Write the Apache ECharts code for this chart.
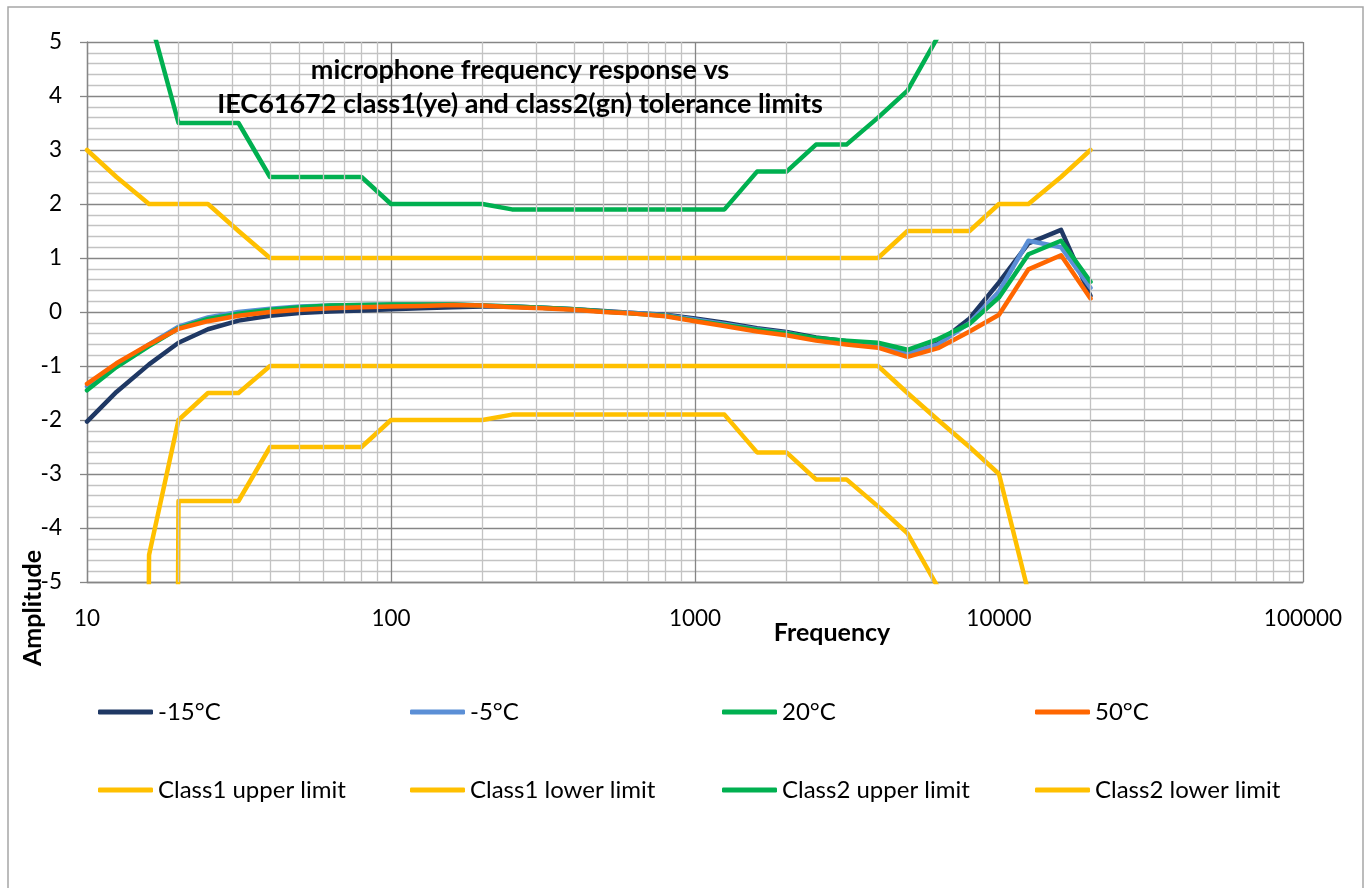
<!DOCTYPE html>
<html>
<head>
<meta charset="utf-8">
<script src="https://cdn.jsdelivr.net/npm/echarts@6/dist/echarts.min.js"></script>
<style>
  html, body { margin: 0; padding: 0; background: #fff; }
  #chart { width: 1369px; height: 888px; }
</style>
</head>
<body>
<div id="chart"></div>
<script>
// third-octave frequencies, Hz
var freq = [10, 12.5, 16, 20, 25, 31.5, 40, 50, 63, 80, 100, 125, 160, 200, 250, 315, 400, 500, 630, 800,
            1000, 1250, 1600, 2000, 2500, 3150, 4000, 5000, 6300, 8000, 10000, 12500, 16000, 20000];

// measured response (dB) per temperature
var resp_m15 = [-2.03, -1.48, -0.97, -0.57, -0.32, -0.16, -0.07, -0.02, 0.01, 0.03, 0.05, 0.07, 0.09, 0.10, 0.10, 0.08, 0.05, 0.02, -0.02, -0.05,
                -0.12, -0.20, -0.30, -0.37, -0.47, -0.54, -0.60, -0.76, -0.58, -0.12, 0.55, 1.27, 1.52, 0.30];
var resp_m5  = [-1.38, -0.98, -0.60, -0.27, -0.10, 0.00, 0.06, 0.10, 0.12, 0.13, 0.14, 0.14, 0.14, 0.12, 0.10, 0.08, 0.05, 0.01, -0.02, -0.06,
                -0.14, -0.22, -0.32, -0.39, -0.50, -0.57, -0.64, -0.76, -0.60, -0.20, 0.38, 1.32, 1.20, 0.45];
var resp_20  = [-1.45, -1.02, -0.63, -0.30, -0.13, -0.03, 0.04, 0.09, 0.12, 0.13, 0.14, 0.14, 0.14, 0.12, 0.10, 0.08, 0.05, 0.01, -0.03, -0.07,
                -0.16, -0.24, -0.33, -0.40, -0.48, -0.53, -0.57, -0.70, -0.50, -0.22, 0.27, 1.07, 1.32, 0.56];
var resp_50  = [-1.33, -0.95, -0.60, -0.31, -0.17, -0.07, 0.00, 0.04, 0.07, 0.09, 0.10, 0.11, 0.13, 0.12, 0.09, 0.07, 0.04, 0.00, -0.03, -0.08,
                -0.17, -0.26, -0.36, -0.43, -0.53, -0.60, -0.66, -0.83, -0.67, -0.36, -0.05, 0.79, 1.05, 0.25];

// IEC61672 tolerance limits (-100 = no lower limit, off the chart)
var class1_up = [3, 2.5, 2, 2, 2, 1.5, 1, 1, 1, 1, 1, 1, 1, 1, 1, 1, 1, 1, 1, 1,
                 1, 1, 1, 1, 1, 1, 1, 1.5, 1.5, 1.5, 2, 2, 2.5, 3];
var class1_lo = [-100, -100, -4.5, -2, -1.5, -1.5, -1, -1, -1, -1, -1, -1, -1, -1, -1, -1, -1, -1, -1, -1,
                 -1, -1, -1, -1, -1, -1, -1, -1.5, -2, -2.5, -3, -5.2, -100, -100];
var class2_up = [5.5, 5.5, 5.5, 3.5, 3.5, 3.5, 2.5, 2.5, 2.5, 2.5, 2, 2, 2, 2, 1.9, 1.9, 1.9, 1.9, 1.9, 1.9,
                 1.9, 1.9, 2.6, 2.6, 3.1, 3.1, 3.6, 4.1, 5.1, 5.6, 5.6, 6, 6, 6];
var class2_lo = [-100, -100, -100, -3.5, -3.5, -3.5, -2.5, -2.5, -2.5, -2.5, -2, -2, -2, -2, -1.9, -1.9, -1.9, -1.9, -1.9, -1.9,
                 -1.9, -1.9, -2.6, -2.6, -3.1, -3.1, -3.6, -4.1, -5.1, -5.6, -5.6, -6, -100, -100];

// minor vertical gridlines of the log axis
var minorFreq = [];
[10, 100, 1000, 10000].forEach(function (d) {
  for (var k = 2; k <= 9; k++) minorFreq.push(d * k);
});

var FONT = 'Lato';
var chart = echarts.init(document.getElementById('chart'));

function pairs(arr) {
  return freq.map(function (f, i) { return [f, arr[i]]; });
}
function lineSeries(name, arr, color) {
  return {
    name: name,
    type: 'line',
    data: pairs(arr),
    showSymbol: false,
    symbol: 'none',
    clip: true,
    lineStyle: { color: color, width: 4.5, cap: 'round', join: 'round' },
    itemStyle: { color: color },
    emphasis: { disabled: true },
    animation: false
  };
}

var names = ['-15°C', '-5°C', '20°C', '50°C', 'Class1 upper limit', 'Class1 lower limit', 'Class2 upper limit', 'Class2 lower limit'];
var legendPos = [[98, 700], [410, 700], [722, 700], [1035, 700], [98, 778], [410, 778], [722, 778], [1035, 778]];

var option = {
  backgroundColor: '#fff',
  textStyle: { fontFamily: FONT },
  grid: { left: 87, top: 42, right: 66, bottom: 306, containLabel: false },
  legend: names.map(function (n, i) {
    return {
      data: [n],
      left: legendPos[i][0],
      top: legendPos[i][1],
      padding: 0,
      icon: 'roundRect',
      itemWidth: 55,
      itemHeight: 5,
      selectedMode: false,
      textStyle: { fontFamily: FONT, fontSize: 24, color: '#000' }
    };
  }),
  xAxis: {
    type: 'log',
    logBase: 10,
    min: 10,
    max: 100000,
    axisLine: { onZero: false, lineStyle: { color: '#868686', width: 1.3 } },
    axisTick: { show: false },
    axisLabel: {
      fontFamily: FONT, fontSize: 22.5, color: '#000', margin: 25,
      formatter: function (v) { return String(Math.round(v)); }
    },
    splitLine: { show: true, lineStyle: { color: '#868686', width: 1.3 } }
  },
  yAxis: {
    type: 'value',
    min: -5,
    max: 5,
    interval: 1,
    axisLine: { show: true, lineStyle: { color: '#868686', width: 1.3 } },
    axisTick: { show: true, length: 7, lineStyle: { color: '#868686', width: 1.3 } },
    axisLabel: { fontFamily: FONT, fontSize: 22.5, color: '#000', margin: 25 },
    splitLine: { show: true, lineStyle: { color: '#868686', width: 1.3 } },
    minorTick: { show: false, splitNumber: 5 },
    minorSplitLine: { show: true, lineStyle: { color: '#c3c3c3', width: 1.3 } }
  },
  graphic: [
    { type: 'rect', shape: { x: 8, y: 7, width: 1355, height: 900 }, style: { fill: null, stroke: '#a6a6a6', lineWidth: 1.5 }, silent: true },
    { type: 'text', x: 520, y: 70, style: { text: 'microphone frequency response vs', font: 'bold 27px ' + FONT, fill: '#000', textAlign: 'center', textVerticalAlign: 'middle' }, z: 100 },
    { type: 'text', x: 520, y: 104, style: { text: 'IEC61672 class1(ye) and class2(gn) tolerance limits', font: 'bold 27px ' + FONT, fill: '#000', textAlign: 'center', textVerticalAlign: 'middle' }, z: 100 },
    { type: 'text', x: 832, y: 633, style: { text: 'Frequency', font: 'bold 25px ' + FONT, fill: '#000', textAlign: 'center', textVerticalAlign: 'middle' }, z: 100 },
    { type: 'text', x: 33, y: 608, rotation: Math.PI / 2, style: { text: 'Amplitude', font: 'bold 25px ' + FONT, fill: '#000', textAlign: 'center', textVerticalAlign: 'middle' }, z: 100 }
  ],
  series: [
    {
      name: 'minor grid',
      type: 'line',
      data: [],
      z: 1,
      silent: true,
      animation: false,
      markLine: {
        silent: true,
        animation: false,
        symbol: ['none', 'none'],
        label: { show: false },
        emphasis: { disabled: true },
        lineStyle: { color: '#c3c3c3', width: 1.3, type: 'solid' },
        data: minorFreq.map(function (f) { return { xAxis: f }; })
      }
    },
    lineSeries('-15°C', resp_m15, '#1f3864'),
    lineSeries('-5°C', resp_m5, '#5b8fd6'),
    lineSeries('20°C', resp_20, '#00b050'),
    lineSeries('50°C', resp_50, '#ff6600'),
    lineSeries('Class1 upper limit', class1_up, '#ffc000'),
    lineSeries('Class1 lower limit', class1_lo, '#ffc000'),
    lineSeries('Class2 upper limit', class2_up, '#00b050'),
    lineSeries('Class2 lower limit', class2_lo, '#ffc000')
  ]
};

chart.setOption(option);
</script>
</body>
</html>
